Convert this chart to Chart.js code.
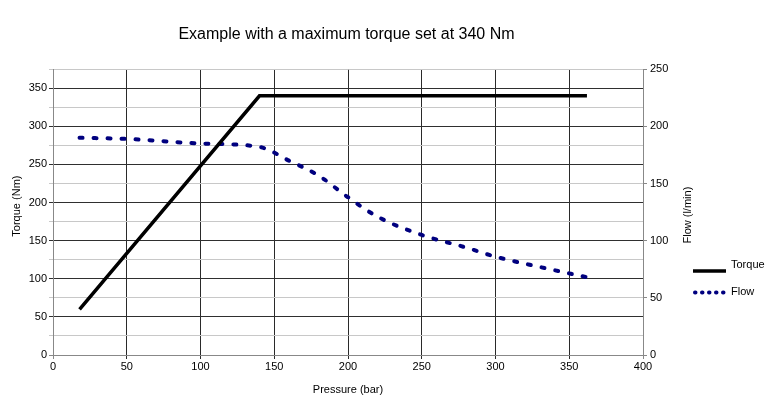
<!DOCTYPE html>
<html>
<head>
<meta charset="utf-8">
<script src="https://cdn.jsdelivr.net/npm/chart.js@4/dist/chart.umd.min.js"></script>
<style>
  html, body { margin: 0; padding: 0; background: #ffffff; }
  #wrap { width: 766px; height: 397px; position: relative; }
</style>
</head>
<body>
<div id="wrap"><canvas id="c"></canvas></div>
<script>
// ---- data ----
const chartTitle = 'Example with a maximum torque set at 340 Nm';
const xAxisTitle = 'Pressure (bar)';
const leftAxisTitle = 'Torque (Nm)';
const rightAxisTitle = 'Flow (l/min)';
const seriesNames = ['Torque', 'Flow'];

const torquePressure = [18, 140, 362];
const torqueValues = [60, 340, 340];

const flowPressure = [18, 50, 100, 140, 160, 180, 200, 220, 250, 280, 300, 330, 362];
const flowValues = [190, 189, 185, 182, 170, 157, 138, 121, 105, 94, 86, 77, 68];

const xTicks = [0, 50, 100, 150, 200, 250, 300, 350, 400];
const leftTicks = [0, 50, 100, 150, 200, 250, 300, 350];
const rightTicks = [0, 50, 100, 150, 200, 250];

const FONT = '"Liberation Sans", Arial, sans-serif';

const torqueData = torquePressure.map((x, i) => ({ x: x, y: torqueValues[i] }));
const flowData = flowPressure.map((x, i) => ({ x: x, y: flowValues[i] }));

const customText = {
  id: 'customText',
  afterDraw(chart) {
    const ctx = chart.ctx;
    const area = chart.chartArea;
    ctx.save();
    ctx.fillStyle = '#000';
    ctx.font = '11px ' + FONT;
    ctx.textAlign = 'center';
    ctx.textBaseline = 'middle';
    // left axis title
    ctx.save();
    ctx.translate(17, (area.top + area.bottom) / 2 - 6);
    ctx.rotate(-Math.PI / 2);
    ctx.fillText(leftAxisTitle, 0, 0);
    ctx.restore();
    // right axis title (reads bottom-to-top)
    ctx.save();
    ctx.translate(688, (area.top + area.bottom) / 2 + 3);
    ctx.rotate(-Math.PI / 2);
    ctx.fillText(rightAxisTitle, 0, 0);
    ctx.restore();
    // legend
    const ds = chart.data.datasets;
    const lineYs = [271, 292.5];
    const textYs = [265, 292];
    const legendDash = [[], [0.5, 6.5]];
    ds.forEach((d, i) => {
      ctx.save();
      ctx.strokeStyle = d.borderColor;
      ctx.lineWidth = d.borderWidth;
      ctx.lineCap = i === 1 ? 'round' : 'butt';
      ctx.setLineDash(legendDash[i]);
      ctx.beginPath();
      ctx.moveTo(i === 1 ? 695 : 693, lineYs[i]);
      ctx.lineTo(726, lineYs[i]);
      ctx.stroke();
      ctx.restore();
      ctx.textAlign = 'left';
      ctx.fillText(d.label, 731, textYs[i]);
    });
    ctx.restore();
  }
};

new Chart(document.getElementById('c'), {
  type: 'line',
  data: {
    datasets: [
      {
        label: seriesNames[0],
        data: torqueData,
        yAxisID: 'yL',
        borderColor: '#000000',
        backgroundColor: '#000000',
        borderWidth: 3.5,
        borderCapStyle: 'butt',
        pointRadius: 0,
        tension: 0
      },
      {
        label: seriesNames[1],
        data: flowData,
        yAxisID: 'yR',
        borderColor: '#00007f',
        backgroundColor: '#00007f',
        borderWidth: 4,
        borderDash: [3, 11],
        borderCapStyle: 'round',
        pointRadius: 0,
        cubicInterpolationMode: 'monotone'
      }
    ]
  },
  options: {
    responsive: true,
    maintainAspectRatio: false,
    animation: false,
    layout: { padding: { top: 0, right: 73, bottom: 0, left: 0 } },
    plugins: {
      legend: { display: false },
      tooltip: { enabled: false },
      title: {
        display: true,
        text: chartTitle,
        color: '#000',
        font: { family: FONT, size: 16, weight: 'normal' },
        padding: { top: 25, bottom: 25 }
      }
    },
    scales: {
      x: {
        type: 'linear',
        min: 0, max: 400,
        afterBuildTicks(scale) { scale.ticks = xTicks.map(v => ({ value: v })); },
        afterFit(scale) { scale.height = 42; },
        ticks: { color: '#000', font: { family: FONT, size: 11 }, padding: 1, maxRotation: 0 },
        grid: {
          color: (c) => (c.tick && (c.tick.value === 0 || c.tick.value === 400)) ? '#888' : '#2a2a2a',
          lineWidth: 1,
          drawTicks: true,
          tickLength: 4
        },
        border: { color: '#888', width: 1 },
        title: { display: true, text: xAxisTitle, color: '#000', font: { family: FONT, size: 11 }, padding: { top: 11, bottom: 0 } }
      },
      yL: {
        type: 'linear',
        position: 'left',
        min: 0, max: 375,
        afterBuildTicks(scale) {
          const t = [];
          for (let v = 0; v <= 375; v += 25) t.push({ value: v });
          scale.ticks = t;
        },
        afterFit(scale) { scale.width = 53; },
        ticks: {
          color: '#000', font: { family: FONT, size: 11 }, padding: 2,
          callback: (v) => leftTicks.includes(v) ? String(v) : ''
        },
        grid: {
          color: (c) => {
            const v = c.tick ? c.tick.value : 0;
            if (v === 0) return '#888';
            return v % 50 === 0 ? '#2f2f2f' : '#c8c8c8';
          },
          lineWidth: 1,
          tickLength: 4
        },
        border: { color: '#888', width: 1 }
      },
      yR: {
        type: 'linear',
        position: 'right',
        min: 0, max: 250,
        afterBuildTicks(scale) { scale.ticks = rightTicks.map(v => ({ value: v })); },
        afterFit(scale) { scale.width = 50; },
        ticks: { color: '#000', font: { family: FONT, size: 11 }, padding: 3 },
        grid: { drawOnChartArea: false, color: '#888', tickLength: 4 },
        border: { color: '#888', width: 1 }
      }
    }
  },
  plugins: [customText]
});
</script>
</body>
</html>
